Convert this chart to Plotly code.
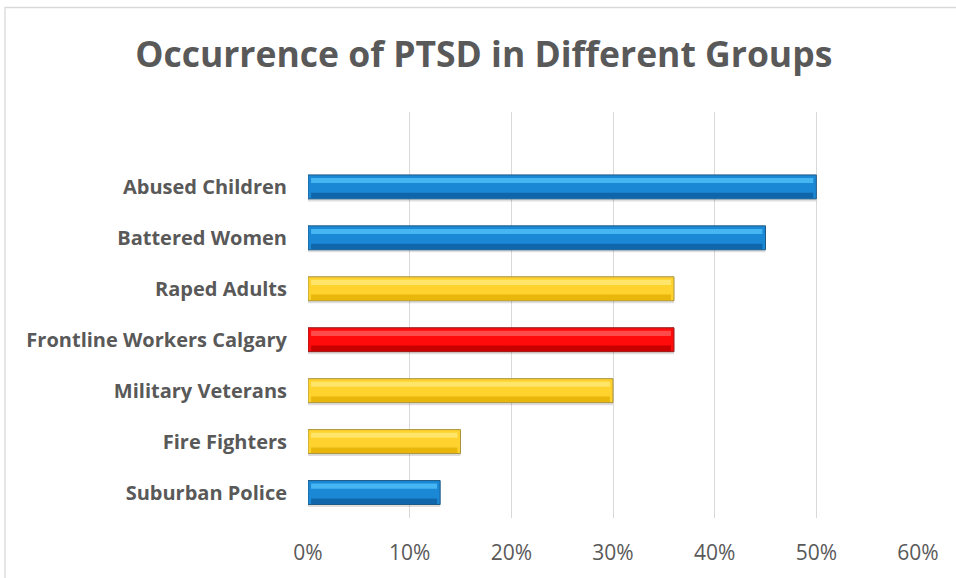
import plotly.graph_objects as go

categories = ["Suburban Police", "Fire Fighters", "Military Veterans",
              "Frontline Workers Calgary", "Raped Adults", "Battered Women",
              "Abused Children"]
values = [0.13, 0.15, 0.30, 0.36, 0.36, 0.45, 0.50]
groups = ["blue", "yellow", "yellow", "red", "yellow", "blue", "blue"]
tick_vals = [0, 0.1, 0.2, 0.3, 0.4, 0.5, 0.6]
tick_text = ["0%", "10%", "20%", "30%", "40%", "50%", "60%"]
title_text = "Occurrence of PTSD in Different Groups"

palette = {
    "blue":   dict(mid="#1B88D6", top="#45B6F2", bot="#0F66AA", edge="#1D5A86"),
    "yellow": dict(mid="#FFD22E", top="#FFE56A", bot="#E9B60C", edge="#A8923C"),
    "red":    dict(mid="#FF0B0B", top="#FF4A4A", bot="#C90000", edge="#8E1E1E"),
}

FONT = "Open Sans, Lato, Liberation Sans, sans-serif"
W = 0.47
fig = go.Figure()
# soft shadow
fig.add_trace(go.Bar(y=categories, x=values, orientation="h", width=W,
                     offset=-W / 2 - 0.05,
                     marker=dict(color="rgba(0,0,0,0.13)", line=dict(width=0)),
                     hoverinfo="skip", showlegend=False))
# main bar
fig.add_trace(go.Bar(y=categories, x=values, orientation="h", width=W,
                     offset=-W / 2,
                     marker=dict(color=[palette[g]["mid"] for g in groups],
                                 line=dict(color=[palette[g]["edge"] for g in groups], width=1)),
                     showlegend=False))
# bottom darker band
fig.add_trace(go.Bar(y=categories, x=[v - 0.006 for v in values], base=0.003,
                     orientation="h", width=0.11, offset=-W / 2 + 0.01,
                     marker=dict(color=[palette[g]["bot"] for g in groups], line=dict(width=0)),
                     hoverinfo="skip", showlegend=False))
# top highlight band
fig.add_trace(go.Bar(y=categories, x=[v - 0.006 for v in values], base=0.003,
                     orientation="h", width=0.1, offset=W / 2 - 0.16,
                     marker=dict(color=[palette[g]["top"] for g in groups], line=dict(width=0)),
                     hoverinfo="skip", showlegend=False))

fig.update_layout(
    width=956, height=578,
    margin=dict(l=308, r=38, t=112, b=58),
    paper_bgcolor="white", plot_bgcolor="white",
    barmode="overlay",
    font=dict(family=FONT, color="#595959"),
    title=dict(text="<b>" + title_text + "</b>", x=0.506, xanchor="center",
               y=0.905, yanchor="middle", font=dict(size=35.5, color="#595959", family=FONT)),
    xaxis=dict(range=[0, 0.6], tickvals=tick_vals, ticktext=tick_text,
               showgrid=True, gridcolor="#D9D9D9", gridwidth=1.3,
               zeroline=False, showline=False,
               ticks="outside", ticklen=16, tickcolor="rgba(0,0,0,0)",
               tickfont=dict(size=21, color="#595959", family=FONT)),
    yaxis=dict(categoryorder="array", categoryarray=categories,
               range=[-0.5, 7.47], showgrid=False, zeroline=False, showline=False,
               ticks="outside", ticklen=16, tickcolor="rgba(0,0,0,0)",
               tickfont=dict(size=20, color="#595959", family=FONT, weight="bold")),
    shapes=[dict(type="rect", xref="paper", yref="paper",
                 x0=-308 / 610 + 5 / 610, x1=1 + 60 / 610, y0=-70 / 408, y1=1 + 105 / 408,
                 line=dict(color="#D9D9D9", width=1.3), fillcolor="rgba(0,0,0,0)", layer="below")],
)

fig.write_html("out.html")
